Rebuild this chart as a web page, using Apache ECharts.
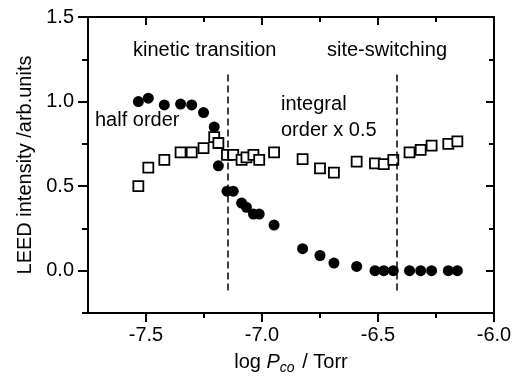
<!DOCTYPE html>
<html>
<head>
<meta charset="utf-8">
<script src="https://cdn.jsdelivr.net/npm/echarts@6/dist/echarts.min.js"></script>
<style>html,body{margin:0;padding:0;background:#fff}#c{width:516px;height:383px}</style>
</head>
<body>
<div id="c"></div>
<script>
// log P_CO / Torr (shared by both series)
const pressure = [-7.533, -7.490, -7.421, -7.351, -7.303, -7.252, -7.206, -7.188, -7.151, -7.124, -7.088, -7.067, -7.037, -7.012, -6.948, -6.825, -6.750, -6.690, -6.592, -6.513, -6.475, -6.434, -6.364, -6.316, -6.269, -6.197, -6.158];
const halfOrder = [1.00, 1.02, 0.98, 0.985, 0.98, 0.935, 0.85, 0.62, 0.47, 0.47, 0.40, 0.375, 0.335, 0.335, 0.27, 0.13, 0.09, 0.045, 0.025, 0, 0, 0, 0, 0, 0, 0, 0];
const integralHalf = [0.50, 0.61, 0.655, 0.70, 0.70, 0.725, 0.79, 0.755, 0.685, 0.685, 0.655, 0.67, 0.685, 0.655, 0.70, 0.66, 0.605, 0.58, 0.645, 0.635, 0.63, 0.655, 0.70, 0.715, 0.74, 0.75, 0.765];
const xMajor = [-7.5, -7.0, -6.5, -6.0];
const xMinor = [-7.25, -6.75, -6.25];
const yMajor = [0, 0.5, 1.0, 1.5];
const yMinor = [-0.25, 0.25, 0.75, 1.25];
const dividers = [-7.147, -6.418];
const dividerSpan = [-0.13, 1.16];

const FONT = '"Liberation Sans", Arial, Helvetica, sans-serif';
const chart = echarts.init(document.getElementById('c'));

function xAx(pos, ticks, len, inside, labels, extra) {
  return Object.assign({
    type: 'value', min: -7.75, max: -6.0, position: pos, offset: 0,
    axisLine: { show: true, onZero: false, lineStyle: { color: '#000', width: 2 } },
    axisTick: { show: true, customValues: ticks, length: len, inside: inside, lineStyle: { color: '#000', width: 2 } },
    axisLabel: labels ? { customValues: ticks, formatter: v => v.toFixed(1), fontSize: 20, color: '#000', fontFamily: FONT, margin: 12 } : { show: false },
    splitLine: { show: false }
  }, extra || {});
}
function yAx(pos, ticks, len, inside, labels, extra) {
  return Object.assign({
    type: 'value', min: -0.25, max: 1.5, position: pos, offset: 0,
    axisLine: { show: true, onZero: false, lineStyle: { color: '#000', width: 2 } },
    axisTick: { show: true, customValues: ticks, length: len, inside: inside, lineStyle: { color: '#000', width: 2 } },
    axisLabel: labels ? { customValues: ticks, formatter: v => v.toFixed(1), fontSize: 20, color: '#000', fontFamily: FONT, margin: 14 } : { show: false },
    splitLine: { show: false }
  }, extra || {});
}

const option = {
  animation: false,
  backgroundColor: '#fff',
  grid: { left: 88, right: 22, top: 17, bottom: 70 },
  xAxis: [
    xAx('bottom', xMajor, 9, false, true, {
      name: '{a|log }{i|P}{s|co}{a| / Torr}', nameLocation: 'middle', nameGap: 36,
      nameTextStyle: {
        fontFamily: FONT, color: '#000', fontSize: 20,
        rich: {
          a: { fontSize: 20, fontFamily: FONT, color: '#000' },
          i: { fontSize: 20, fontFamily: FONT, color: '#000', fontStyle: 'italic' },
          s: { fontSize: 14, fontFamily: FONT, color: '#000', fontStyle: 'italic', padding: [12, 2, 0, 0] }
        }
      }
    }),
    xAx('bottom', xMinor, 5, false, false),
    xAx('top', xMajor, 8, true, false),
    xAx('top', xMinor, 5, true, false)
  ],
  yAxis: [
    yAx('left', yMajor, 10, false, true, {
      name: 'LEED intensity /arb.units', nameLocation: 'middle', nameGap: 53,
      nameTextStyle: { fontFamily: FONT, color: '#000', fontSize: 20 }
    }),
    yAx('left', yMinor, 6, false, false),
    yAx('right', yMajor, 8, true, false),
    yAx('right', yMinor, 5, true, false)
  ],
  series: [
    {
      name: 'integral order x 0.5', type: 'scatter', xAxisIndex: 0, yAxisIndex: 0,
      data: pressure.map((p, i) => [p, integralHalf[i]]),
      symbol: 'rect', symbolSize: 10,
      itemStyle: { color: '#fff', borderColor: '#000', borderWidth: 1.8, opacity: 1 },
      z: 3
    },
    {
      name: 'half order', type: 'scatter', xAxisIndex: 0, yAxisIndex: 0,
      data: pressure.map((p, i) => [p, halfOrder[i]]),
      symbol: 'circle', symbolSize: 11,
      itemStyle: { color: '#000', opacity: 1 },
      z: 4,
      markLine: {
        silent: true, symbol: 'none', label: { show: false },
        lineStyle: { color: '#000', width: 1.5, type: [7, 4], opacity: 1 },
        data: dividers.map(d => [{ coord: [d, dividerSpan[1]] }, { coord: [d, dividerSpan[0]] }])
      }
    }
  ],
  graphic: [
    { type: 'text', left: 133, top: 40, style: { text: 'kinetic transition', fontSize: 20, fontFamily: FONT, fill: '#000' } },
    { type: 'text', left: 327, top: 40, style: { text: 'site-switching', fontSize: 20, fontFamily: FONT, fill: '#000' } },
    { type: 'text', left: 95, top: 110, style: { text: 'half order', fontSize: 20, fontFamily: FONT, fill: '#000' } },
    { type: 'text', left: 281, top: 94, style: { text: 'integral', fontSize: 20, fontFamily: FONT, fill: '#000' } },
    { type: 'text', left: 281, top: 120, style: { text: 'order x 0.5', fontSize: 20, fontFamily: FONT, fill: '#000' } }
  ]
};
chart.setOption(option);
</script>
</body>
</html>
